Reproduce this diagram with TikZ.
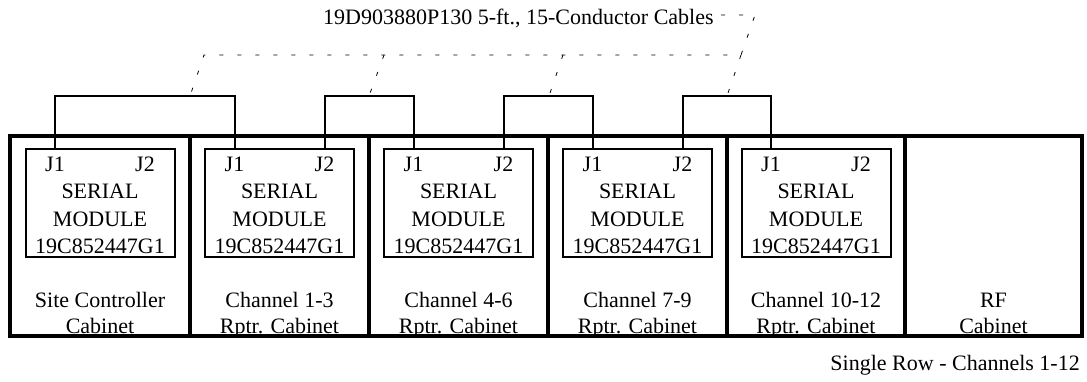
\documentclass[tikz,border=0pt]{standalone}
\usepackage{fontspec}
\setmainfont{Liberation Serif}
\begin{document}
\begin{tikzpicture}[x=1pt,y=-1pt,
  cab/.style={draw,line width=4pt,minimum height=200pt,inner sep=0pt},
  modbox/.style={draw,line width=2pt,minimum width=149pt,minimum height=108pt,inner sep=0pt},
  txt/.style={font=\fontsize{22}{27}\selectfont,inner sep=0pt,anchor=base},
  cable/.style={line width=2pt},
  leader/.style={line width=0.8pt,dash pattern=on 4pt off 14pt}]
\useasboundingbox (0,0) rectangle (1087,381);
% cabinets
\foreach \i/\cx/\w in {1/100/180,2/279.5/179,3/458.5/179,4/637.5/179,5/816/178,6/993.5/177}{
  \node[cab,minimum width=\w pt] (cab\i) at (\cx,236) {};
}
% cabinet labels
\node[txt] (cl1a) at (cab1.center |- 0,307) {Site Controller};
\node[txt] (cl1b) at (cab1.center |- 0,333) {Cabinet};
\node[txt] (cl2a) at (cab2.center |- 0,307) {Channel 1-3};
\node[txt] (cl2b) at (cab2.center |- 0,333) {Rptr. Cabinet};
\node[txt] (cl3a) at (cab3.center |- 0,307) {Channel 4-6};
\node[txt] (cl3b) at (cab3.center |- 0,333) {Rptr. Cabinet};
\node[txt] (cl4a) at (cab4.center |- 0,307) {Channel 7-9};
\node[txt] (cl4b) at (cab4.center |- 0,333) {Rptr. Cabinet};
\node[txt] (cl5a) at (cab5.center |- 0,307) {Channel 10-12};
\node[txt] (cl5b) at (cab5.center |- 0,333) {Rptr. Cabinet};
\node[txt] (cl6a) at (cab6.center |- 0,307) {RF};
\node[txt] (cl6b) at (cab6.center |- 0,333) {Cabinet};
% serial modules
\foreach \i in {1,...,5}{
  \node[modbox] (m\i) at (cab\i.center |- 0,203) {};
  \coordinate (m\i-j1) at ([xshift=-45pt]m\i.north);
  \coordinate (m\i-j2) at ([xshift=45pt]m\i.north);
  \node[txt] (m\i-l1) at (m\i-j1 |- 0,171) {J1};
  \node[txt] (m\i-l2) at (m\i-j2 |- 0,171) {J2};
  \node[txt] (m\i-t1) at (m\i.center |- 0,198) {SERIAL};
  \node[txt] (m\i-t2) at (m\i.center |- 0,226) {MODULE};
  \node[txt] (m\i-t3) at (m\i.center |- 0,253) {19C852447G1};
}
% cables
\draw[cable] (m1-j1) -- (m1-j1 |- 0,96) -| (m2-j1);
\draw[cable] (m2-j2) -- (m2-j2 |- 0,96) -| (m3-j1);
\draw[cable] (m3-j2) -- (m3-j2 |- 0,96) -| (m4-j1);
\draw[cable] (m4-j2) -- (m4-j2 |- 0,96) -| (m5-j1);
% title and leaders
\node[txt,anchor=base west] (title) at (323,24) {19D903880P130 5-ft., 15-Conductor Cables};
\coordinate (T) at (721,15);
\coordinate (Q) at (755,15);
\coordinate (P1) at (204,55);
\coordinate (P2) at (384,55);
\coordinate (P3) at (563,55);
\coordinate (P4) at (741,55);
\coordinate (L1) at (190,96);
\coordinate (L2) at (369,96);
\coordinate (L3) at (549,96);
\coordinate (L4) at (727,96);
\draw[leader] (T) -- (Q) -- (P4) -- (P1) -- (L1);
\draw[leader] (P2) -- (L2);
\draw[leader] (P3) -- (L3);
\draw[leader] (P4) -- (L4);
% footer
\node[txt,anchor=base east] (foot) at (1080,370) {Single Row - Channels 1-12};
\end{tikzpicture}
\end{document}
